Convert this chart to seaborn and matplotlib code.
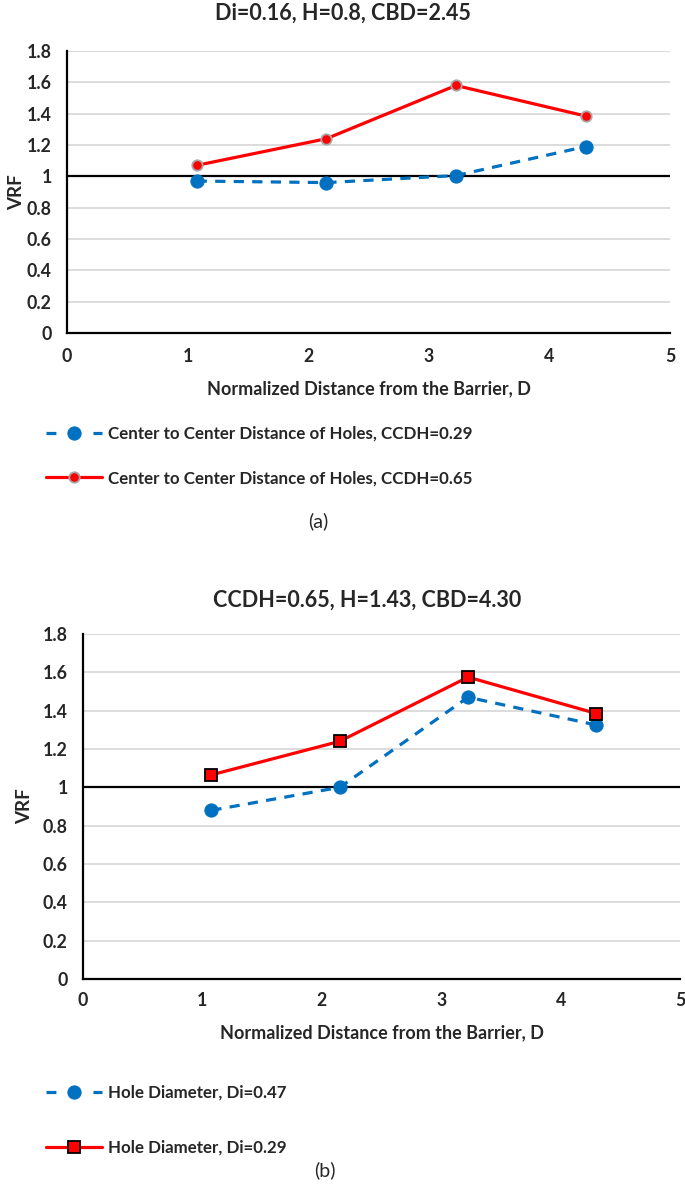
import numpy as np
import pandas as pd
import matplotlib.pyplot as plt
import seaborn as sns

sns.set_style('white')
plt.rcParams['font.family'] = ['Lato', 'DejaVu Sans']
plt.rcParams['font.weight'] = 'bold'

# Data
distance = [1.075, 2.15, 3.225, 4.30]

# (a) Di=0.16, H=0.8, CBD=2.45
vrf_ccdh_029 = [0.97, 0.96, 1.005, 1.19]
vrf_ccdh_065 = [1.07, 1.24, 1.58, 1.385]
labels_a = ['Center to Center Distance of Holes, CCDH=0.29',
            'Center to Center Distance of Holes, CCDH=0.65']

# (b) CCDH=0.65, H=1.43, CBD=4.30
vrf_di_047 = [0.88, 1.00, 1.47, 1.325]
vrf_di_029 = [1.065, 1.24, 1.575, 1.385]
labels_b = ['Hole Diameter, Di=0.47', 'Hole Diameter, Di=0.29']

title_a = 'Di=0.16, H=0.8, CBD=2.45'
title_b = 'CCDH=0.65, H=1.43, CBD=4.30'
xlabel = 'Normalized Distance from the Barrier, D'
ylabel = 'VRF'
yticks = [0, 0.2, 0.4, 0.6, 0.8, 1, 1.2, 1.4, 1.6, 1.8]
ytick_labels = ['0', '0.2', '0.4', '0.6', '0.8', '1', '1.2', '1.4', '1.6', '1.8']

BLUE = '#0070C0'
RED = '#FF0000'
W, H = 685, 1190

fig = plt.figure(figsize=(W / 100, H / 100), dpi=100)


def px_axes(left, top, right, bottom):
    return fig.add_axes([left / W, 1 - bottom / H, (right - left) / W, (bottom - top) / H])


def style_axes(ax, ypad, xpad, ylabel_x):
    ax.set_xlim(0, 5)
    ax.set_ylim(0, 1.8)
    ax.set_yticks(yticks)
    ax.set_yticklabels(ytick_labels)
    ax.set_xticks(range(6))
    ax.tick_params(length=0, labelsize=12.8)
    ax.tick_params(axis='y', pad=ypad)
    ax.tick_params(axis='x', pad=xpad)
    for y in yticks[1:]:
        ax.axhline(y, color='#d9d9d9', lw=1.3, zorder=0)
    ax.axhline(1, color='black', lw=1.6, zorder=1)
    for s in ['top', 'right']:
        ax.spines[s].set_visible(False)
    for s in ['left', 'bottom']:
        ax.spines[s].set_color('black')
        ax.spines[s].set_linewidth(1.6)
    ax.set_xlabel(xlabel, fontsize=13, fontweight='bold', labelpad=11)
    ax.set_ylabel(ylabel, fontsize=13.5, fontweight='bold', va='center')
    ax.yaxis.set_label_coords(ylabel_x, 0.5)


def add_legend(ax, y_top, spacing):
    h, l = ax.get_legend_handles_labels()
    ax.get_legend().remove()
    leg = fig.legend(h, l, loc='upper left', bbox_to_anchor=(38 / W, 1 - y_top / H),
                     frameon=False, handlelength=3.25, labelspacing=spacing,
                     handletextpad=0.4, borderpad=0,
                     prop={'weight': 'bold', 'size': 12.2})
    # Excel-like dashed handle: dash, marker, dash
    leg.get_lines()[0].set_linestyle((0, (3.1, 11.6)))
    return leg


# ---- panel (a)
ax1 = px_axes(67, 51, 670, 333)
df_a = pd.DataFrame({'D': distance, 'v1': vrf_ccdh_029, 'v2': vrf_ccdh_065})
sns.lineplot(data=df_a, x='D', y='v1', ax=ax1, color=BLUE, lw=2.3,
             linestyle=(0, (3.2, 2.6)), marker='o', markersize=9.5,
             markeredgecolor=BLUE, label=labels_a[0], zorder=3)
sns.lineplot(data=df_a, x='D', y='v2', ax=ax1, color=RED, lw=2.3,
             marker='o', markersize=7.5, markeredgecolor='#a6a6a6',
             markeredgewidth=1.3, label=labels_a[1], zorder=4)
style_axes(ax1, ypad=11, xpad=11, ylabel_x=(17 - 67) / 603)
add_legend(ax1, 417, 1.7)
fig.text(318 / W, 1 - 521 / H, '(a)', ha='center', va='center', fontsize=14,
         fontweight='normal')
fig.text(343 / W, 1 - 13 / H, title_a, ha='center', va='center', fontsize=15.5,
         fontweight='bold')

# ---- panel (b)
ax2 = px_axes(83, 634, 680, 979)
df_b = pd.DataFrame({'D': distance, 'v1': vrf_di_047, 'v2': vrf_di_029})
sns.lineplot(data=df_b, x='D', y='v1', ax=ax2, color=BLUE, lw=2.3,
             linestyle=(0, (3.2, 2.6)), marker='o', markersize=9.5,
             markeredgecolor=BLUE, label=labels_b[0], zorder=3)
sns.lineplot(data=df_b, x='D', y='v2', ax=ax2, color=RED, lw=2.3,
             marker='s', markersize=9, markeredgecolor='black',
             markeredgewidth=1.3, label=labels_b[1], zorder=4)
style_axes(ax2, ypad=11, xpad=9, ylabel_x=(25 - 83) / 597)
add_legend(ax2, 1076, 2.3)
fig.text(325 / W, 1 - 1170 / H, '(b)', ha='center', va='center', fontsize=14,
         fontweight='normal')
fig.text(367 / W, 1 - 600 / H, title_b, ha='center', va='center', fontsize=15.5,
         fontweight='bold')

fig.savefig('out.png', dpi=100)
